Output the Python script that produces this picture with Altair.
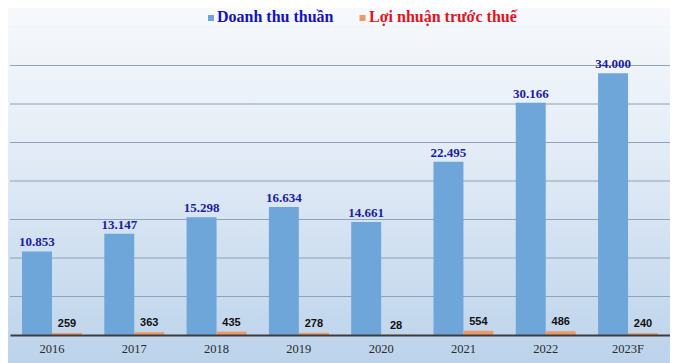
import altair as alt
import pandas as pd

years = ["2016", "2017", "2018", "2019", "2020", "2021", "2022", "2023F"]
revenue = [10853, 13147, 15298, 16634, 14661, 22495, 30166, 34000]
profit = [259, 363, 435, 278, 28, 554, 486, 240]
series = ["Doanh thu thuần", "Lợi nhuận trước thuế"]
bar_colors = ["#6ea6da", "#ee9a68"]
grid_values = [5000, 10000, 15000, 20000, 25000, 30000, 35000, 40000]

rows = []
for y, r, p in zip(years, revenue, profit):
    rows.append({"year": y, "series": series[0], "value": r})
    rows.append({"year": y, "series": series[1], "value": p})
df = pd.DataFrame(rows)

one = pd.DataFrame({"a": [0]})
grid_df = pd.DataFrame({"value": grid_values})

bg = alt.Chart(one).mark_rect(
    color=alt.Gradient(
        gradient="linear",
        stops=[
            alt.GradientStop(color="#f7f9fc", offset=0),
            alt.GradientStop(color="#e6eef7", offset=0.35),
            alt.GradientStop(color="#bcd3eb", offset=1),
        ],
        x1=0, x2=0, y1=0, y2=1,
    )
).encode(x=alt.value(-2), x2=alt.value(662), y=alt.value(-19), y2=alt.value(336))

y_scale = alt.Scale(domain=[0, 40000], nice=False)

grid = alt.Chart(grid_df).mark_rule(strokeWidth=1).encode(
    y=alt.Y("value:Q", scale=y_scale, title=None,
            axis=alt.Axis(labels=False, ticks=False, domain=False, grid=False)),
    color=alt.condition(alt.datum.value >= 40000, alt.value("#eef3f8"), alt.value("#8fa2b6")),
)

x_enc = alt.X(
    "year:N", sort=years, title=None,
    scale=alt.Scale(paddingInner=0.272, paddingOuter=0.146),
    axis=alt.Axis(
        labelAngle=0, labelFont="Liberation Serif", labelFontSize=12.5,
        labelColor="#2a2a2a", labelPadding=7, ticks=False,
        domainColor="#3c3c3c", domainWidth=2, grid=False, zindex=1,
    ),
)

base = alt.Chart(df).encode(
    x=x_enc,
    xOffset=alt.XOffset("series:N", sort=series),
)

bars = base.mark_bar().encode(
    y=alt.Y("value:Q", scale=y_scale),
    color=alt.Color("series:N", sort=series,
                    scale=alt.Scale(domain=series, range=bar_colors), legend=None),
)

lbl_rev = base.transform_filter(alt.datum.series == series[0]).transform_calculate(
    txt="replace(format(datum.value, ','), ',', '.')"
).mark_text(
    font="Liberation Serif", fontWeight="bold", fontSize=13, color="#1c1c9e",
    baseline="alphabetic", dy=-5,
).encode(y="value:Q", text="txt:N")

lbl_pro = base.transform_filter(alt.datum.series == series[1]).mark_text(
    font="Liberation Sans", fontWeight="bold", fontSize=11, color="#111111",
    baseline="alphabetic", dy=-6,
).encode(y="value:Q", text="value:Q")

leg_sq1 = alt.Chart(one).mark_square(size=36, color=bar_colors[0], opacity=1).encode(
    x=alt.value(201), y=alt.value(-9))
leg_sq2 = alt.Chart(one).mark_square(size=36, color=bar_colors[1], opacity=1).encode(
    x=alt.value(352.5), y=alt.value(-9))
leg_t1 = alt.Chart(one).mark_text(
    font="Liberation Serif", fontWeight="bold", fontSize=16, color="#1414b8",
    align="left", baseline="alphabetic",
).encode(x=alt.value(207), y=alt.value(-5), text=alt.value(series[0]))
leg_t2 = alt.Chart(one).mark_text(
    font="Liberation Serif", fontWeight="bold", fontSize=16, color="#e0141c",
    align="left", baseline="alphabetic",
).encode(x=alt.value(359), y=alt.value(-5), text=alt.value(series[1]))

chart = alt.layer(bg, grid, bars, lbl_rev, lbl_pro, leg_sq1, leg_sq2, leg_t1, leg_t2).properties(
    width=660, height=308,
    autosize=alt.AutoSizeParams(type="none"),
    padding={"left": 2, "top": 19, "right": 0, "bottom": 28},
    background="#ffffff",
).configure_view(stroke=None)

chart.save("out.html", embed_options={"renderer": "svg", "actions": False})
